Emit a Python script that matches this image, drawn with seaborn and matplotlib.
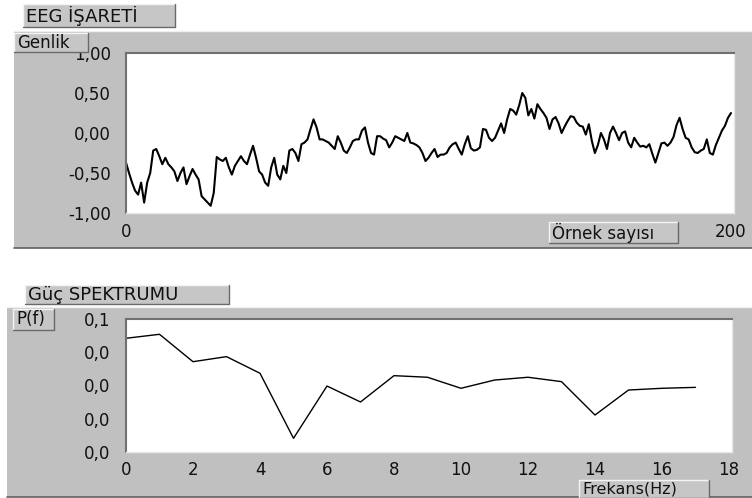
import numpy as np
import pandas as pd
import matplotlib
matplotlib.use("Agg")
import matplotlib.pyplot as plt
from matplotlib.patches import Rectangle
from matplotlib.lines import Line2D
import seaborn as sns

# ---------------- data ----------------
eeg_values = [
    -0.37, -0.50, -0.62, -0.72, -0.77, -0.62, -0.87, -0.62, -0.50, -0.22,
    -0.20, -0.29, -0.39, -0.31, -0.39, -0.43, -0.48, -0.60, -0.50, -0.43,
    -0.64, -0.54, -0.45, -0.52, -0.58, -0.79, -0.83, -0.87, -0.91, -0.75,
    -0.30, -0.33, -0.35, -0.31, -0.43, -0.52, -0.41, -0.35, -0.29, -0.35,
    -0.39, -0.27, -0.16, -0.31, -0.48, -0.52, -0.62, -0.66, -0.43, -0.31,
    -0.52, -0.58, -0.41, -0.50, -0.22, -0.20, -0.25, -0.35, -0.14, -0.12,
    -0.08, 0.05, 0.17, 0.07, -0.08, -0.08, -0.10, -0.12, -0.16, -0.20,
    -0.04, -0.12, -0.22, -0.25, -0.18, -0.10, -0.08, -0.08, 0.03, 0.07,
    -0.12, -0.25, -0.27, -0.04, -0.04, -0.07, -0.09, -0.18, -0.12, -0.04,
    -0.06, -0.08, -0.10, 0.00, -0.12, -0.13, -0.15, -0.18, -0.25, -0.35,
    -0.31, -0.25, -0.20, -0.30, -0.27, -0.27, -0.25, -0.18, -0.14, -0.12,
    -0.20, -0.27, -0.14, -0.04, -0.19, -0.22, -0.21, -0.18, 0.05, 0.04,
    -0.06, -0.10, -0.06, 0.03, 0.12, 0.00, 0.17, 0.30, 0.28, 0.23,
    0.35, 0.50, 0.44, 0.22, 0.30, 0.18, 0.36, 0.30, 0.25, 0.19,
    0.05, 0.17, 0.20, 0.12, 0.00, 0.08, 0.15, 0.21, 0.20, 0.13,
    0.09, 0.08, -0.02, 0.11, -0.10, -0.25, -0.15, 0.00, -0.08, -0.20,
    0.00, 0.08, 0.00, -0.09, 0.00, 0.02, -0.12, -0.18, -0.06, -0.12,
    -0.17, -0.16, -0.18, -0.14, -0.26, -0.37, -0.25, -0.13, -0.12, -0.16,
    -0.12, -0.05, 0.10, 0.19, 0.05, -0.06, -0.08, -0.18, -0.24, -0.25,
    -0.22, -0.20, -0.08, -0.25, -0.27, -0.15, -0.06, 0.03, 0.09, 0.19,
    0.25,
]
eeg_samples = list(range(len(eeg_values)))

freq_hz = list(range(18))
power_values = [0.0855, 0.0885, 0.0679, 0.0717, 0.0592, 0.0103, 0.0496, 0.0376,
                0.0574, 0.0562, 0.0479, 0.0541, 0.0562, 0.0529, 0.0278, 0.0466,
                0.0479, 0.0486]

eeg_yticks = [-1.0, -0.5, 0.0, 0.5, 1.0]
eeg_yticklabels = ["-1,00", "-0,50", "0,00", "0,50", "1,00"]
eeg_xticks = [0, 200]
eeg_xticklabels = ["0", "200"]

pw_yticks = [0.0, 0.025, 0.05, 0.075, 0.1]
pw_yticklabels = ["0,0", "0,0", "0,0", "0,0", "0,1"]
pw_xticks = list(range(0, 19, 2))
pw_xticklabels = [str(v) for v in pw_xticks]

title_top = "EEG İŞARETİ"
ylabel_top = "Genlik"
xlabel_top = "Örnek sayısı"
title_bot = "Güç SPEKTRUMU"
ylabel_bot = "P(f)"
xlabel_bot = "Frekans(Hz)"

# ---------------- style ----------------
sns.set_style("white")
plt.rcParams["font.family"] = ["DejaVu Sans"]
FS = 12

W, H = 752, 498
fig = plt.figure(figsize=(W / 100, H / 100), dpi=100)
fig.patch.set_facecolor("white")

GRAY = "#c0c0c0"


def rect(x0, y0, x1, y1):
    return [x0 / W, 1 - y1 / H, (x1 - x0) / W, (y1 - y0) / H]


def panel(x0, y0, x1, y1):
    fig.patches.append(Rectangle((x0 / W, 1 - y1 / H), (x1 - x0) / W, (y1 - y0) / H,
                                 transform=fig.transFigure, facecolor=GRAY,
                                 edgecolor="none", zorder=0))
    fig.lines.append(Line2D([x0 / W, x1 / W], [1 - y0 / H] * 2, transform=fig.transFigure,
                            color="#f0f0f0", lw=1, zorder=0.5))
    fig.lines.append(Line2D([x0 / W, x1 / W], [1 - y1 / H] * 2, transform=fig.transFigure,
                            color="#606060", lw=1.2, zorder=0.5))


def button(x0, y0, x1, y1, text, fs=FS):
    fig.patches.append(Rectangle((x0 / W, 1 - y1 / H), (x1 - x0) / W, (y1 - y0) / H,
                                 transform=fig.transFigure, facecolor="#c6c6c6",
                                 edgecolor="none", zorder=5))
    fig.lines.append(Line2D([x0 / W, x1 / W], [1 - y0 / H] * 2, transform=fig.transFigure,
                            color="#f4f4f4", lw=1, zorder=6))
    fig.lines.append(Line2D([x0 / W] * 2, [1 - y0 / H, 1 - y1 / H], transform=fig.transFigure,
                            color="#f4f4f4", lw=1, zorder=6))
    fig.lines.append(Line2D([x0 / W, x1 / W], [1 - y1 / H] * 2, transform=fig.transFigure,
                            color="#6a6a6a", lw=1, zorder=6))
    fig.lines.append(Line2D([x1 / W] * 2, [1 - y0 / H, 1 - y1 / H], transform=fig.transFigure,
                            color="#6a6a6a", lw=1, zorder=6))
    fig.text((x0 + 3) / W, 1 - ((y0 + y1) / 2) / H, text, fontsize=fs, color="#111111",
             ha="left", va="center", zorder=7)


panel(14, 31, 752, 248)
panel(7, 307, 752, 497)


def style_axes(ax):
    ax.set_zorder(2)
    ax.set_facecolor("white")
    for s in ["left", "top"]:
        ax.spines[s].set_color("#707070")
        ax.spines[s].set_linewidth(1.5)
    for s in ["right", "bottom"]:
        ax.spines[s].set_color("#e8e8e8")
        ax.spines[s].set_linewidth(1.0)
    ax.set_xlabel("")
    ax.set_ylabel("")


# ---------------- top: EEG signal ----------------
ax1 = fig.add_axes(rect(126, 53, 734, 213))
df_eeg = pd.DataFrame({"n": eeg_samples, "v": eeg_values})
sns.lineplot(data=df_eeg, x="n", y="v", ax=ax1, color="black", linewidth=1.5)
ax1.set_xlim(0, 608 / 3.025)
ax1.set_ylim(-1.0, 1.0)
ax1.set_yticks(eeg_yticks)
ax1.set_yticklabels(eeg_yticklabels)
ax1.set_xticks(eeg_xticks)
ax1.set_xticklabels(eeg_xticklabels)
ax1.tick_params(axis="y", direction="out", length=8, width=1.2, color="#222222",
                pad=3, labelsize=FS, labelcolor="#111111")
ax1.tick_params(axis="x", direction="out", length=5.5, width=1.2, color="#222222",
                pad=2, labelsize=FS, labelcolor="#111111")
style_axes(ax1)

# ---------------- bottom: power spectrum ----------------
ax2 = fig.add_axes(rect(126, 319, 732, 452))
df_pw = pd.DataFrame({"f": freq_hz, "p": power_values})
sns.lineplot(data=df_pw, x="f", y="p", ax=ax2, color="black", linewidth=1.0)
ax2.set_xlim(0, 606 / 33.5)
ax2.set_ylim(0, 0.1)
ax2.set_yticks(pw_yticks)
ax2.set_yticklabels(pw_yticklabels)
ax2.set_xticks(pw_xticks)
ax2.set_xticklabels(pw_xticklabels)
ax2.tick_params(axis="y", direction="out", length=8, width=1.2, color="#222222",
                pad=3, labelsize=FS, labelcolor="#111111")
ax2.tick_params(axis="x", direction="out", length=5, width=1.2, color="#222222",
                pad=1.5, labelsize=FS, labelcolor="#111111")
style_axes(ax2)

# ---------------- labels (button-like boxes) ----------------
button(23, 4, 175, 27, title_top, fs=13)
button(14, 33, 88, 52, ylabel_top)
button(549, 222, 678, 243, xlabel_top)
button(25, 285, 229, 304, title_bot, fs=13)
button(13, 309, 54, 330, ylabel_bot)
button(579, 480, 709, 498, xlabel_bot, fs=11.5)

fig.savefig("out.png", dpi=100, facecolor="white")
